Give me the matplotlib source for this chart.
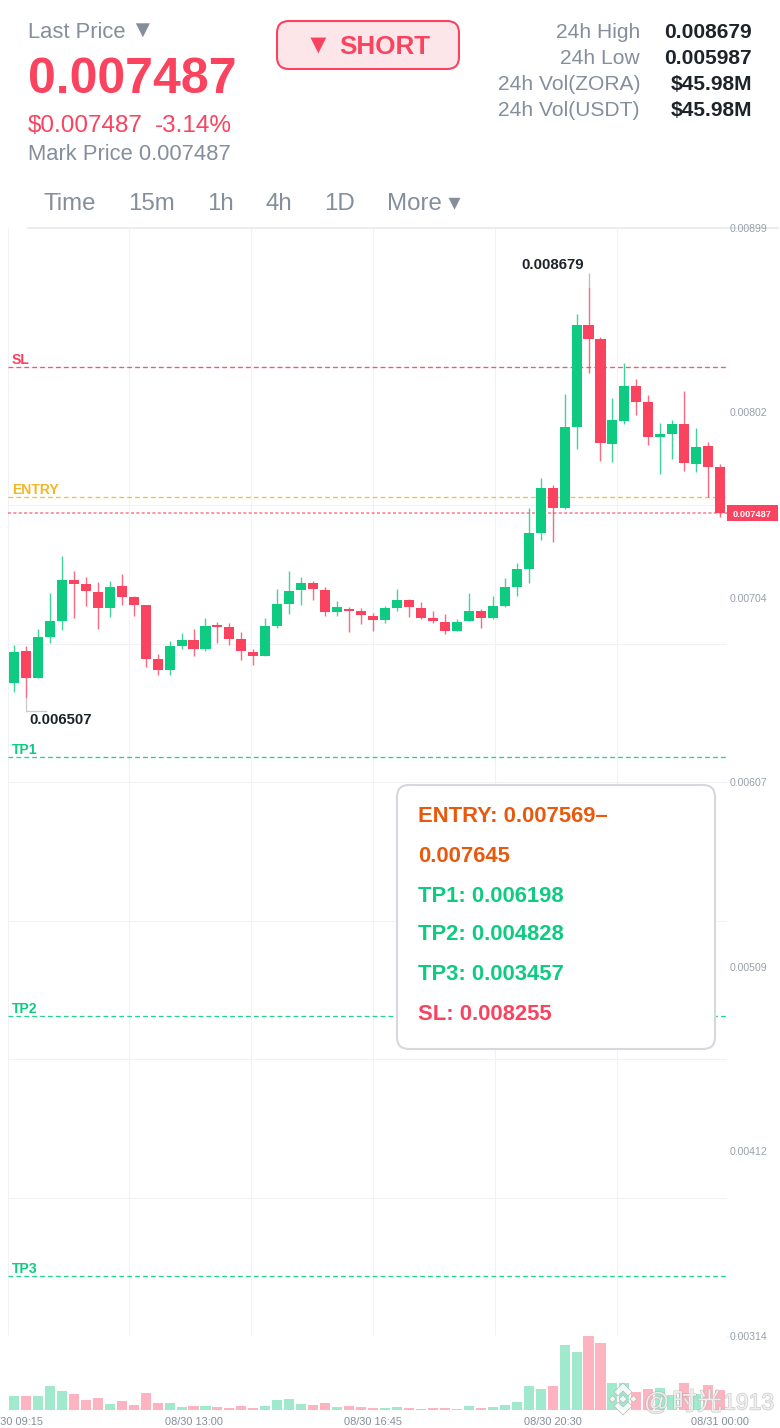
import numpy as np
import matplotlib
matplotlib.use('Agg')
import matplotlib.pyplot as plt
from matplotlib.patches import FancyBboxPatch, Polygon, Rectangle
import matplotlib.patheffects as pe

plt.rcParams['font.family'] = ['Liberation Sans', 'Noto Sans CJK SC', 'DejaVu Sans']

# prices in 1e-6 USDT
opens = [6586,6755,6616,6829,6917,7131,7110,7070,6985,7100,
         7043,6999,6713,6658,6783,6815,6767,6892,6885,6820,
         6751,6732,6889,7005,7080,7117,7080,6964,6980,6966,
         6943,6920,6985,7027,6984,6929,6910,6861,6913,6968,
         6929,6996,7094,7190,7380,7616,7510,7941,8479,8404,
         7851,7973,8156,8073,7886,7902,7954,7744,7839,7726]
closes = [6751,6612,6830,6913,7131,7110,7072,6985,7094,7043,
          7001,6713,6658,6781,6815,6769,6889,6885,6818,6755,
          6732,6889,7003,7075,7117,7082,6964,6987,6968,6947,
          6920,6985,7026,6987,6932,6913,6861,6911,6966,6932,
          6993,7093,7190,7380,7616,7510,7941,8479,8404,7855,
          7975,8156,8073,7885,7901,7954,7751,7832,7728,7487]
highs = [6788,6783,6871,7061,7257,7181,7146,7119,7126,7163,
         7047,6999,6739,6811,6853,6871,6929,6910,6903,6855,
         6767,6929,7084,7181,7147,7125,7093,7019,6987,6982,
         6956,6993,7082,7031,7015,6966,6950,6926,7061,6978,
         7047,7140,7220,7512,7670,7635,8112,8536,8679,8413,
         8094,8279,8191,8108,7962,7976,8128,7932,7858,7742]
lows = [6538,6507,6616,6797,6867,6931,6996,6871,6938,7001,
        6940,6670,6628,6631,6769,6732,6758,6797,6790,6709,
        6684,6732,6876,6952,6999,7026,6943,6943,6858,6899,
        6864,6906,6969,6935,6927,6906,6848,6861,6913,6878,
        6924,6990,7049,7117,7343,7332,7505,7823,8224,7761,
        7754,7957,8003,7846,7693,7769,7705,7700,7568,7466]
volumes = [43,43,41,73,57,49,31,36,18,28,14,51,21,21,10,11,13,9,6,11,
           7,13,29,34,19,14,21,9,12,8,6,5,10,6,4,5,7,3,11,6,
           9,15,23,72,64,72,195,173,222,200,82,82,54,62,65,45,81,47,74,61]

price_ticks = [0.00899, 0.00802, 0.00704, 0.00607, 0.00509, 0.00412, 0.00314]
price_tick_labels = ['0.00899', '0.00802', '0.00704', '0.00607', '0.00509', '0.00412', '0.00314']
grid_prices = [0.00314, 0.003871, 0.004602, 0.005333, 0.006064, 0.006795, 0.007526, 0.008257]
grid_bars = [9.6, 19.8, 30.0, 40.15, 50.35]
time_ticks = [0, 15, 30, 45, 59]
time_labels = ['08/30 09:15', '08/30 13:00', '08/30 16:45', '08/30 20:30', '08/31 00:00']

levels = ['SL', 'ENTRY', 'TP1', 'TP2', 'TP3']
level_prices = [0.008255, 0.007569, 0.006198, 0.004828, 0.003457]
last_price = 0.007487

GREEN = '#0ecb81'
RED = '#f9435f'
GREY = '#848e9c'
DARK = '#1e2329'
level_colors = [RED, '#f2b824', GREEN, GREEN, GREEN]

W, H = 780, 1428
fig = plt.figure(figsize=(W / 100, H / 100), dpi=100, facecolor='white')


def px_axes(x0, y0, x1, y1, **kw):
    return fig.add_axes([x0 / W, 1 - y1 / H, (x1 - x0) / W, (y1 - y0) / H], **kw)


def px(size):
    return size * 0.72


# price panel
ax = px_axes(8, 228, 727, 1336)
ax.set_xlim(-0.5, 59.57)
ax.set_ylim(0.00314, 0.00899)
ax.axis('off')

ax.hlines(grid_prices, -0.5, 59.57, color='#f1f2f4', lw=0.8, zorder=1)
ax.vlines(grid_bars, 0.00314, 0.00899, color='#f1f2f4', lw=0.8, zorder=1)
ax.vlines([-0.5], 0.00314, 0.00899, color='#eff0f2', lw=1.2, zorder=1)

o = np.array(opens) / 1e6
c = np.array(closes) / 1e6
hi = np.array(highs) / 1e6
lo = np.array(lows) / 1e6
idx = np.arange(len(o))
cols = [GREEN if b >= a else RED for a, b in zip(o, c)]

for name, p, col in zip(levels, level_prices, level_colors):
    ax.hlines(p, -0.5, 59.57, color=col, lw=0.95, linestyles=(0, (3.6, 2.4)), alpha=0.9, zorder=2)
ax.hlines(last_price, -0.5, 59.57, color=RED, lw=1.1, linestyles=(0, (2, 1.5)), alpha=0.7, zorder=2)

ax.vlines(idx, lo, hi, color=cols, lw=1.0, alpha=0.8, zorder=3)
ax.bar(idx, np.abs(c - o), bottom=np.minimum(o, c), width=0.84, color=cols, lw=0, zorder=4)

# high / low markers
ax.text(45.03, 0.008796, '0.008679', fontsize=px(15), fontweight='bold',
        color=DARK, ha='center', va='center', zorder=6)
ax.vlines(48, 0.008679, 0.008755, color='#b9bec5', lw=1.0, zorder=5)
ax.plot([1, 1, 2.67], [0.006507, 0.006442, 0.006442], color='#c9cdd2', lw=1.0, zorder=5)
ax.text(1.3, 0.00639, '0.006507', fontsize=px(15), fontweight='bold', color=DARK, ha='left', va='center', zorder=6)

# volume panel
vax = px_axes(8, 1336, 727, 1410, sharex=ax)
vax.set_ylim(0, 222)
vax.axis('off')
vax.bar(idx, volumes, width=0.84, color=['#a0e9cd' if x == GREEN else '#fdb4c0' for x in cols], lw=0)

# overlay in pixel coordinates for header, labels and tooltip
ov = px_axes(0, 0, W, H)
ov.set_xlim(0, W)
ov.set_ylim(H, 0)
ov.axis('off')
ov.patch.set_alpha(0)

ov.plot([28, 778], [227.5, 227.5], color='#e8e9eb', lw=1.2)
ov.plot([727, 745], [1336, 1336], color='#f1f2f4', lw=0.8)

# header
ov.text(28, 33, 'Last Price', fontsize=px(22), color=GREY, va='center')
ov.text(142.5, 32, '▼', fontsize=px(24), color=GREY, ha='center', va='center')
ov.text(28, 80, '0.007487', fontsize=px(50), color=RED, fontweight='bold', va='center')
ov.text(28, 126, '$0.007487', fontsize=px(24.2), color=RED, va='center')
ov.text(155, 126, '-3.14%', fontsize=px(24.2), color=RED, va='center')
ov.text(28, 154, 'Mark Price 0.007487', fontsize=px(22), color=GREY, va='center')

ov.add_patch(FancyBboxPatch((277, 21), 182, 48, boxstyle='round,pad=0,rounding_size=12',
                            fc='#fde6e9', ec=RED, lw=1.5))
ov.text(318, 46, '▼', fontsize=px(27), color=RED, ha='center', va='center')
ov.text(339, 47, 'SHORT', fontsize=px(26), color=RED, fontweight='bold', va='center')

stat_names = ['24h High', '24h Low', '24h Vol(ZORA)', '24h Vol(USDT)']
stat_values = ['0.008679', '0.005987', '$45.98M', '$45.98M']
for y, n, v in zip([33, 59, 85, 111], stat_names, stat_values):
    ov.text(640, y, n, fontsize=px(21), color=GREY, ha='right', va='center')
    ov.text(752, y, v, fontsize=px(21), color=DARK, fontweight='bold', ha='right', va='center')

for x, t in zip([44, 128, 207, 266, 324, 387], ['Time', '15m', '1h', '4h', '1D', 'More ▾']):
    ov.text(x, 204, t, fontsize=px(24), color=GREY, va='center')

# price axis labels, the top one is cut by the panel edge
tick_clip = Rectangle((727, 225), 53, 1120, transform=ov.transData)
for p, t in zip(price_ticks, price_tick_labels):
    y = 228 + (0.00899 - p) / (0.00899 - 0.00314) * 1108
    lab = ov.text(730, y + 1.5, t, fontsize=px(10.5), color='#9aa1ab', va='center')
    lab.set_clip_path(tick_clip)

ov.add_patch(Rectangle((727, 505), 51, 16, fc=RED, ec='none'))
ov.text(752.5, 514.5, '0.007487', fontsize=px(9.3), color='white', fontweight='bold', ha='center', va='center')

# level names
for name, p, col in zip(levels, level_prices, level_colors):
    y = 228 + (0.00899 - p) / (0.00899 - 0.00314) * 1108
    ov.text(12, y - 7.2, name, fontsize=px(14), color=col, fontweight='bold', va='center')

# time labels
for i, t in zip(time_ticks, time_labels):
    ov.text(14 + 11.97 * i, 1422, t, fontsize=px(11), color=GREY, ha='center', va='center')

# tooltip
ov.add_patch(FancyBboxPatch((397, 785), 318, 264, boxstyle='round,pad=0,rounding_size=12',
                            fc='white', ec='#d5d8dc', lw=1.5, zorder=8))
tip_lines = ['ENTRY: 0.007569–', '0.007645', 'TP1: 0.006198', 'TP2: 0.004828', 'TP3: 0.003457', 'SL: 0.008255']
tip_colors = ['#e8590c', '#e8590c', GREEN, GREEN, GREEN, RED]
for y, t, col in zip([817, 857, 897, 935, 975, 1015], tip_lines, tip_colors):
    ov.text(418, y, t, fontsize=px(22), color=col, fontweight='bold', va='center', zorder=9)

# watermark
halo = [pe.withStroke(linewidth=1.0, foreground='#a8a8a8', alpha=0.55)]
ov.text(644, 1403, '@', fontsize=px(25), color='#f4f4f4', alpha=0.8, va='center', path_effects=halo, zorder=10)
ov.text(672, 1403, '时光', fontsize=px(25), color='#f4f4f4', alpha=0.8, va='center', path_effects=halo, zorder=10)
ov.text(723, 1403, '1913', fontsize=px(23), color='#f4f4f4', alpha=0.8, va='center', path_effects=halo, zorder=10)

cx, cy = 623, 1399
logo_parts = [
    [(cx - 9, cy - 7), (cx, cy - 16), (cx + 9, cy - 7), (cx + 5, cy - 3), (cx, cy - 8), (cx - 5, cy - 3)],
    [(cx - 9, cy + 7), (cx, cy + 16), (cx + 9, cy + 7), (cx + 5, cy + 3), (cx, cy + 8), (cx - 5, cy + 3)],
    [(cx - 4, cy), (cx, cy - 4), (cx + 4, cy), (cx, cy + 4)],
    [(cx - 14, cy), (cx - 10.5, cy - 3.5), (cx - 7, cy), (cx - 10.5, cy + 3.5)],
    [(cx + 7, cy), (cx + 10.5, cy - 3.5), (cx + 14, cy), (cx + 10.5, cy + 3.5)],
]
for pts in logo_parts:
    ov.add_patch(Polygon(pts, fc='white', ec='#b5b5b5', lw=0.6, alpha=0.85, zorder=10))

fig.savefig('out.png', dpi=100)
